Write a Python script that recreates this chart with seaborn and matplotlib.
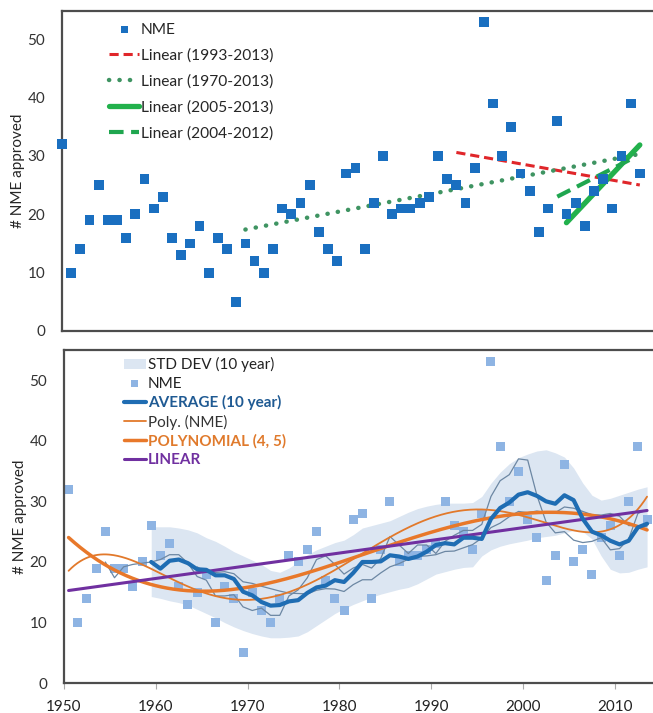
import numpy as np
import pandas as pd
import matplotlib
matplotlib.use('Agg')
import matplotlib.pyplot as plt
import seaborn as sns

# NME approvals per year
years = list(range(1950, 2014))
nme = [32, 10, 14, 19, 25, 19, 19, 16, 20, 26,
       21, 23, 16, 13, 15, 18, 10, 16, 14, 5,
       15, 12, 10, 14, 21, 20, 22, 25, 17, 14,
       12, 27, 28, 14, 22, 30, 20, 21, 21, 22,
       23, 30, 26, 25, 22, 28, 53, 39, 30, 35,
       27, 24, 17, 21, 36, 20, 22, 18, 24, 26,
       21, 30, 39, 27]

# STD DEV (10 year) band edges (1959-2013)
band_years = list(range(1959, 2014))
band_upper = [25.8, 25.8, 25.8, 25.6, 25.3, 24.8, 24.0, 23.4, 22.6, 21.7,
              21.0, 20.3, 19.6, 18.6, 18.3, 19.0, 20.0, 21.2, 22.0, 22.6,
              23.2, 23.6, 24.5, 25.6, 26.0, 26.4, 26.8, 27.5, 28.2, 28.8,
              29.2, 29.5, 29.7, 29.7, 29.7, 29.8, 30.8, 33.0, 34.8, 36.2,
              37.2, 37.8, 38.3, 38.5, 38.0, 37.3, 35.5, 33.0, 31.0, 30.2,
              30.5, 31.0, 31.5, 32.0, 32.4]
band_lower = [14.3, 14.0, 13.6, 13.3, 12.9, 12.2, 11.5, 10.8, 10.0, 9.3,
              8.7, 8.2, 7.8, 7.5, 7.5, 7.6, 7.8, 8.5, 9.5, 10.5,
              11.5, 12.3, 13.0, 13.6, 14.2, 14.7, 15.1, 15.5, 15.8, 16.4,
              17.2, 18.0, 18.4, 18.8, 19.1, 19.2, 21.0, 22.0, 22.6, 23.0,
              23.3, 23.6, 24.0, 24.2, 24.4, 24.8, 25.2, 25.0, 23.8, 21.0,
              18.8, 18.2, 18.3, 18.8, 19.2]

# trend line ranges for the top panel
trend_ranges = [(1993, 2013), (1970, 2013), (2005, 2013), (2004, 2012)]
trend_labels = ['Linear (1993-2013)', 'Linear (1970-2013)',
                'Linear (2005-2013)', 'Linear (2004-2012)']

df = pd.DataFrame({'year': years, 'nme': nme})

sns.set_theme(style='white')
plt.rcParams['font.family'] = ['Lato', 'DejaVu Sans']
plt.rcParams['axes.edgecolor'] = '#4d4d4d'
plt.rcParams['axes.linewidth'] = 1.6

fig = plt.figure(figsize=(6.53, 7.13), dpi=100)
ax1 = fig.add_axes([0.0949, 0.5358, 0.913, 0.4488])
ax2 = fig.add_axes([0.098, 0.0417, 0.914, 0.4674])

# ---- top panel ----
sns.scatterplot(data=df, x='year', y='nme', marker='s', s=50, color='#1a6fc0',
                edgecolor='none', label='NME', ax=ax1, clip_on=False, zorder=3)

styles = [dict(color='#e0262a', lw=2.2, linestyle=(0, (3.0, 1.6))),
          dict(color='#3f9462', lw=3.2, linestyle=(0, (0.05, 2.3)),
               dash_capstyle='round'),
          dict(color='#22b14c', lw=3.8, solid_capstyle='round'),
          dict(color='#1fa64f', lw=3.0, linestyle=(0, (3.5, 1.8)))]
for (a, b), lab, st in zip(trend_ranges, trend_labels, styles):
    sub = df[(df.year >= a) & (df.year <= b)]
    sns.regplot(data=sub, x='year', y='nme', scatter=False, ci=None,
                truncate=True, label=lab, line_kws=st, ax=ax1)

ax1.set_xlim(1950, 2015)
ax1.set_ylim(0, 54.85)
ax1.set_yticks([0, 10, 20, 30, 40, 50])
ax1.set_xticks([])
ax1.set_xlabel('')
ax1.set_ylabel('# NME approved', fontsize=11, labelpad=2)
ax1.tick_params(axis='y', length=0, pad=12, labelsize=11, labelcolor='#333333')
leg1 = ax1.legend(loc='upper left', bbox_to_anchor=(0.079, 0.963), frameon=False,
                  fontsize=11.2, handlelength=1.95, handletextpad=0.1,
                  labelspacing=0.74, borderpad=0, borderaxespad=0, markerscale=0.75)

# ---- bottom panel ----
xb = np.array(years) + 0.5
y = np.array(nme, dtype=float)
s = pd.Series(y)
avg10 = s.rolling(10).mean()
avg5 = s.rolling(5).mean()
avg15 = s.rolling(15).mean()

band = ax2.fill_between(np.array(band_years) + 0.5, band_lower, band_upper,
                        color='#dce6f2', lw=0, label='STD DEV (10 year)', zorder=1)
sns.scatterplot(x=xb, y=y, marker='s', s=42, color='#8eb4e3', edgecolor='none',
                label='NME', ax=ax2, clip_on=False, zorder=2)
sns.lineplot(x=xb, y=avg5.values, color='#6c87a3', lw=0.9, ax=ax2, zorder=3)
sns.lineplot(x=xb, y=avg15.values, color='#6c87a3', lw=0.9, ax=ax2, zorder=3)

grid = np.linspace(xb.min(), xb.max(), 400)
p5 = np.polynomial.Polynomial.fit(xb, y, 5)
p4 = np.polynomial.Polynomial.fit(xb, y, 4)
p1 = np.polynomial.Polynomial.fit(xb, y, 1)
sns.lineplot(x=xb, y=avg10.values, color='#1f6db3', lw=3.0, ax=ax2,
             label='AVERAGE (10 year)', zorder=5)
sns.lineplot(x=grid, y=p5(grid), color='#e2792b', lw=1.3, ax=ax2,
             label='Poly. (NME)', zorder=4)
sns.lineplot(x=grid, y=p4(grid), color='#e8782a', lw=2.5, ax=ax2,
             label='POLYNOMIAL (4, 5)', zorder=4)
sns.lineplot(x=grid, y=p1(grid), color='#7030a0', lw=2.2, ax=ax2,
             label='LINEAR', zorder=4)

ax2.set_xlim(1950, 2015)
ax2.set_ylim(0, 54.95)
ax2.set_yticks([0, 10, 20, 30, 40, 50])
ax2.set_xticks([1950, 1960, 1970, 1980, 1990, 2000, 2010])
ax2.set_xlabel('')
ax2.set_ylabel('# NME approved', fontsize=11, labelpad=2)
ax2.tick_params(axis='y', length=0, pad=12, labelsize=11, labelcolor='#333333')
ax2.tick_params(axis='x', length=4, width=0.8, color='#aaaaaa', direction='out',
                bottom=True, pad=8, labelsize=11, labelcolor='#222222')

h, l = ax2.get_legend_handles_labels()
order = ['STD DEV (10 year)', 'NME', 'AVERAGE (10 year)', 'Poly. (NME)',
         'POLYNOMIAL (4, 5)', 'LINEAR']
hh = [h[l.index(k)] for k in order]
leg2 = ax2.legend(hh, order, loc='upper left', bbox_to_anchor=(0.1, 0.978),
                  frameon=False, fontsize=11, handlelength=1.45,
                  handletextpad=0.15, labelspacing=0.29, borderpad=0,
                  borderaxespad=0, markerscale=0.8)
txt_colors = ['#222222', '#222222', '#1f5a93', '#333333', '#e07a2c', '#7030a0']
bold = [False, False, True, False, True, True]
for t, c, b in zip(leg2.get_texts(), txt_colors, bold):
    t.set_color(c)
    if b:
        t.set_fontweight('bold')

fig.savefig('out.png', dpi=100)
